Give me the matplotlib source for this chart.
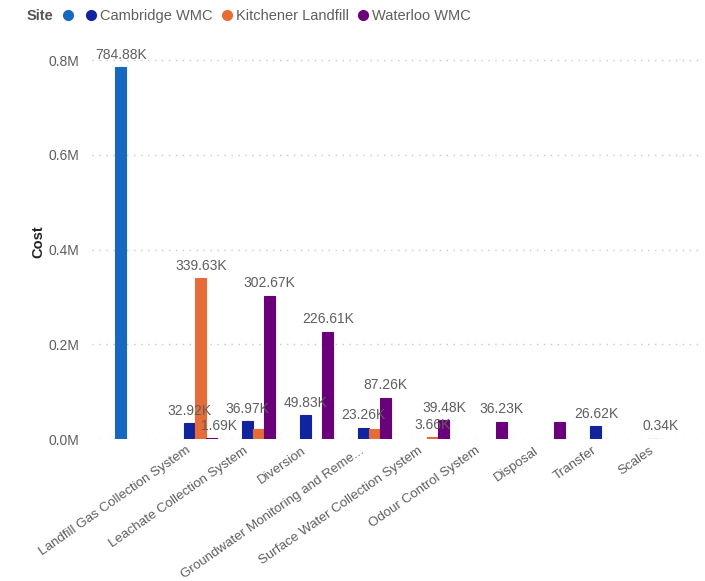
import numpy as np
import matplotlib.pyplot as plt
from matplotlib.lines import Line2D

plt.rcParams['font.family'] = ['Liberation Sans', 'DejaVu Sans']

categories = ["", "Landfill Gas Collection System", "Leachate Collection System", "Diversion",
              "Groundwater Monitoring and Reme...", "Surface Water Collection System",
              "Odour Control System", "Disposal", "Transfer", "Scales"]
sites = ["", "Cambridge WMC", "Kitchener Landfill", "Waterloo WMC"]
colors = ["#1668C1", "#12239E", "#E66C37", "#6B007B"]

# cost in K, None = no bar
blank_site = [784.88, None, None, None, None, None, None, None, None, None]
cambridge = [None, 32.92, 36.97, 49.83, 23.26, None, None, None, 26.62, 0.34]
kitchener = [None, 339.63, 20.5, None, 20.8, 3.66, None, None, None, None]
waterloo = [None, 1.69, 302.67, 226.61, 87.26, 39.48, 36.23, 35.9, None, None]
# labels hidden by the report where they would collide
hidden = {(2, 2), (2, 4), (3, 7)}

series = [blank_site, cambridge, kitchener, waterloo]

fig = plt.figure(figsize=(7.05, 5.81), dpi=100)
ax = fig.add_axes([0.1305, 0.2444, 0.8625, 0.6781])

x = np.arange(len(categories))
w = 0.19
lab_col = "#605E5C"
for s, vals in enumerate(series):
    for i, v in enumerate(vals):
        if v is None:
            continue
        xi = x[i] + (s - 1.5) * w
        ax.bar(xi, v * 1000, width=w, color=colors[s], edgecolor=colors[s],
               linewidth=0.8, zorder=3)
        if (s, i) in hidden:
            continue
        dx = 5 if v < 2 else 0
        ax.annotate(f"{v:.2f}K", (xi, v * 1000), xytext=(dx, 4), textcoords="offset points",
                    ha="center", va="bottom", fontsize=10, color=lab_col, zorder=4)

ax.set_xlim(-0.78, 9.7)
ax.set_ylim(0, 831700)
ticks = [0, 200000, 400000, 600000, 800000]
ax.set_yticks(ticks)
ax.set_yticklabels([f"{t/1e6:.1f}M" for t in ticks], fontsize=10, color=lab_col)
ax.grid(axis="y", linestyle=(0, (1, 4)), color="#C8C8C8", linewidth=1, zorder=0)
ax.set_xticks(x)
ax.set_xticklabels([])
# category labels, anchored a little left of each tick like the report
for i, name in enumerate(categories):
    ax.annotate(name, (x[i], 0), xytext=(-7, -4), textcoords="offset points",
                rotation=35, ha="right", va="top", rotation_mode="anchor",
                fontsize=9.6, color=lab_col, annotation_clip=False)
ax.tick_params(axis="y", length=0, pad=9)
ax.tick_params(axis="x", length=0)
for sp in ax.spines.values():
    sp.set_visible(False)
ax.set_ylabel("Cost", fontsize=10.5, color="#252423", fontweight="bold", labelpad=2)

fig.text(0.038, 0.972, "Site", fontsize=10.5, fontweight="bold", color="#555555", va="center")
handles = [Line2D([], [], marker="o", linestyle="", color=c, markersize=7) for c in colors]
fig.legend(handles, sites, loc="center left", bbox_to_anchor=(0.084, 0.972), ncol=4,
           frameon=False, fontsize=10.5, labelcolor=lab_col, handletextpad=0.0,
           columnspacing=0.4, handlelength=1.2, borderaxespad=0, borderpad=0)

fig.savefig("out.png", dpi=100, facecolor="white")
